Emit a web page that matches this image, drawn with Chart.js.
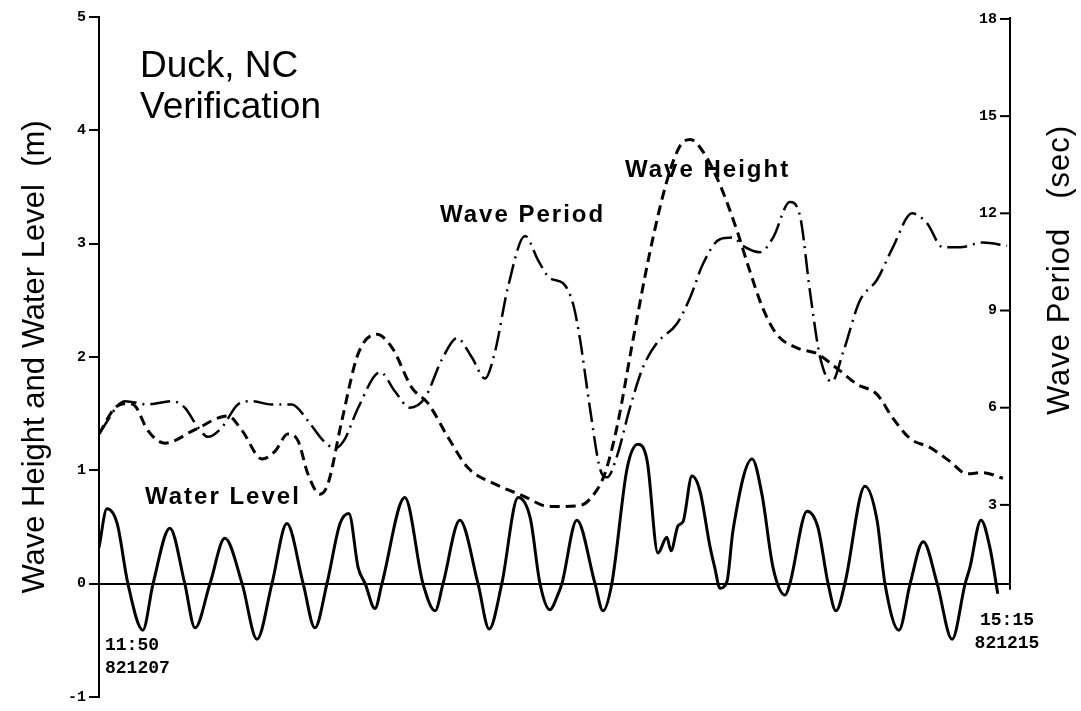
<!DOCTYPE html>
<html>
<head>
<meta charset="utf-8">
<script src="https://cdn.jsdelivr.net/npm/chart.js@4/dist/chart.umd.min.js"></script>
<style>
html, body { margin: 0; padding: 0; background: #fff; }
#wrap { width: 1081px; height: 711px; position: relative; }
</style>
</head>
<body>
<div id="wrap"><canvas id="duck-chart"></canvas></div>
<script>
// time axis: hours after 11:50 on 821207, ends 15:15 on 821215
var spanHours = 195.42;
var startLabel = ["11:50", "821207"];
var endLabel = ["15:15", "821215"];

var levelHours = [0,1.7,3.9,6.2,9.4,11.6,15.2,18.4,20.6,23.8,27.0,30.7,33.9,37.1,40.3,43.8,46.3,48.9,51.7,53.6,55.6,57.1,59.2,60.7,65.6,69.5,72.1,73.8,77.4,81.3,83.7,86.4,89.9,92.5,94.6,96.7,98.5,99.3,102.5,106.4,108.1,110.0,113.3,115.6,117.6,119.9,121.8,122.7,124.2,125.3,127.2,128.9,131.1,132.1,133.2,134.7,136.0,140.1,142.2,144.6,147.2,148.2,151.9,154.2,156.4,158.1,160.0,164.3,166.9,168.6,171.6,174.0,176.8,179.8,183.0,185.8,186.8,189.2,191.1,192.8];
var waterLevel = [0.32,0.66,0.53,0,-0.41,0,0.49,0,-0.39,0,0.40,0,-0.49,0,0.53,0,-0.39,0,0.53,0.62,0.14,0,-0.22,0,0.76,0,-0.24,0,0.56,0,-0.40,0,0.76,0.58,0,-0.23,-0.09,0,0.56,0,-0.24,0,1.02,1.23,1.08,0.27,0.41,0.29,0.51,0.55,0.95,0.82,0.32,0.14,-0.04,0.02,0.47,1.10,0.79,0.14,-0.10,0,0.64,0.50,0,-0.24,0,0.86,0.56,0,-0.41,0,0.37,0,-0.49,0,0.14,0.56,0.32,-0.09];

var heightHours = [0,3.4,6.2,7.7,10.5,14.2,20.6,27.7,30.7,35.0,37.8,40.5,42.7,44.8,47.4,49.1,52.1,55.6,59.6,62.9,67.1,70.6,74.9,79.2,84.9,90.7,96.7,103.2,106.0,108.5,111.1,114.5,118.2,121.8,124.6,126.8,129.6,133.2,136.9,139.6,142.4,145.4,149.7,154.0,158.3,162.6,166.9,170.3,174.0,178.3,182.5,186.2,189.6,193.9];
var waveHeight = [1.32,1.55,1.59,1.57,1.35,1.24,1.36,1.48,1.35,1.10,1.17,1.32,1.26,0.97,0.79,0.88,1.44,2.03,2.20,2.08,1.73,1.59,1.29,1.02,0.88,0.78,0.68,0.69,0.78,0.97,1.38,2.14,2.93,3.55,3.86,3.92,3.81,3.52,3.11,2.76,2.43,2.20,2.08,2.03,1.90,1.76,1.67,1.46,1.28,1.20,1.08,0.97,0.98,0.93];

var periodHours = [0,5.6,10.5,15.7,18.4,21.2,23.4,26.4,29.8,32.8,37.1,41.4,44.8,48.0,50.6,52.6,55.6,60.3,63.5,66.7,69.9,73.6,76.8,80.0,82.8,84.9,87.7,91.4,94.2,96.7,99.5,101.7,103.2,105.3,107.5,109.0,111.1,113.9,116.7,119.7,124.0,126.8,129.6,133.2,136.0,138.1,141.8,144.6,148.2,150.4,152.5,154.7,157.2,159.6,163.2,166.9,170.3,174.4,177.6,181.0,184.7,189.6,194.8];
var wavePeriod = [5.2,6.2,6.1,6.2,6.0,5.4,5.1,5.4,6.1,6.2,6.1,6.1,5.6,5.0,4.75,5.0,6.0,7.1,6.5,6.0,6.3,7.5,8.15,7.55,6.9,7.7,9.7,11.3,10.55,10.0,9.85,9.2,8.1,6.0,4.1,3.85,4.5,6.0,7.25,8.0,8.6,9.4,10.45,11.2,11.25,11.0,10.8,11.25,12.35,11.9,9.6,7.55,6.8,7.7,9.3,9.95,10.95,12.0,11.7,10.95,10.95,11.1,11.0];

var rightTicks = [3, 6, 9, 12, 15, 18];

function pairs(xs, ys) {
    return xs.map(function (x, i) { return { x: x, y: ys[i] }; });
}

// labels, titles and the inner-tick right axis, as on the old figure
var paperText = {
    id: 'paperText',
    afterDraw: function (chart) {
        var c = chart.ctx, area = chart.chartArea;
        var y = chart.scales.y, y2 = chart.scales.y2;
        c.save();
        c.fillStyle = '#000';
        c.strokeStyle = '#000';

        c.lineWidth = 2;
        c.beginPath();
        c.moveTo(area.right, area.top);
        c.lineTo(area.right, y.getPixelForValue(0) + 6);
        c.stroke();
        c.font = 'bold 15px "Liberation Mono"';
        c.textAlign = 'right';
        c.textBaseline = 'middle';
        rightTicks.forEach(function (v) {
            var py = y2.getPixelForValue(v);
            c.beginPath();
            c.moveTo(area.right - 10, py);
            c.lineTo(area.right, py);
            c.stroke();
            c.fillText(String(v), area.right - 13, py);
        });

        c.font = 'bold 18px "Liberation Mono"';
        c.textAlign = 'left';
        c.fillText(startLabel[0], area.left + 6, 645);
        c.fillText(startLabel[1], area.left + 6, 668);
        c.textAlign = 'center';
        c.fillText(endLabel[0], area.right - 3, 620);
        c.fillText(endLabel[1], area.right - 3, 643);

        c.textAlign = 'left';
        c.font = '37px "Liberation Sans"';
        c.fillText('Duck, NC', 140, 67);
        c.fillText('Verification', 140, 108);

        c.font = 'bold 24px "Liberation Sans"';
        c.letterSpacing = '2px';
        c.fillText('Wave Period', 440, 215);
        c.fillText('Wave Height', 625, 170);
        c.fillText('Water Level', 145, 497);
        c.letterSpacing = '0px';

        c.font = '31px "Liberation Sans"';
        c.textAlign = 'center';
        c.translate(35, (area.top + area.bottom) / 2);
        c.rotate(-Math.PI / 2);
        c.fillText('Wave Height and Water Level  (m)', 0, 0);
        c.setTransform(1, 0, 0, 1, 0, 0);
        c.translate(1060, 270);
        c.rotate(-Math.PI / 2);
        c.letterSpacing = '1px';
        c.fillText('Wave Period   (sec)', 0, 0);
        c.restore();
    }
};

new Chart(document.getElementById("duck-chart"), {
    type: 'line',
    data: {
        datasets: [
            {
                label: "Water Level",
                data: pairs(levelHours, waterLevel),
                yAxisID: 'y',
                borderColor: '#000',
                borderWidth: 3
            },
            {
                label: "Wave Height",
                data: pairs(heightHours, waveHeight),
                yAxisID: 'y',
                borderColor: '#000',
                borderWidth: 3,
                borderDash: [10, 6]
            },
            {
                label: "Wave Period",
                data: pairs(periodHours, wavePeriod),
                yAxisID: 'y2',
                borderColor: '#000',
                borderWidth: 2.5,
                borderDash: [20, 6, 2, 6]
            }
        ]
    },
    options: {
        responsive: true,
        maintainAspectRatio: false,
        animation: false,
        layout: { padding: { left: 0, top: 17, right: 71, bottom: 14 } },
        elements: {
            point: { radius: 0 },
            line: { cubicInterpolationMode: 'monotone', fill: false }
        },
        plugins: {
            legend: { display: false },
            tooltip: { enabled: false }
        },
        scales: {
            x: {
                type: 'linear',
                display: false,
                min: 0,
                max: spanHours
            },
            y: {
                position: 'left',
                min: -1,
                max: 5,
                afterFit: function (scale) { scale.width = 99; },
                ticks: {
                    stepSize: 1,
                    color: '#000',
                    padding: 3,
                    font: { family: 'Liberation Mono', size: 15, weight: 'bold' }
                },
                border: { display: true, color: '#000', width: 2 },
                grid: {
                    drawOnChartArea: true,
                    drawTicks: true,
                    tickLength: 10,
                    tickColor: '#000',
                    tickWidth: 2,
                    color: function (ctx) { return ctx.tick && ctx.tick.value === 0 ? '#000' : 'rgba(0,0,0,0)'; },
                    lineWidth: 2
                }
            },
            y2: {
                position: 'right',
                display: false,
                min: -2.93,
                max: 18.06
            }
        }
    },
    plugins: [paperText]
});
</script>
</body>
</html>
